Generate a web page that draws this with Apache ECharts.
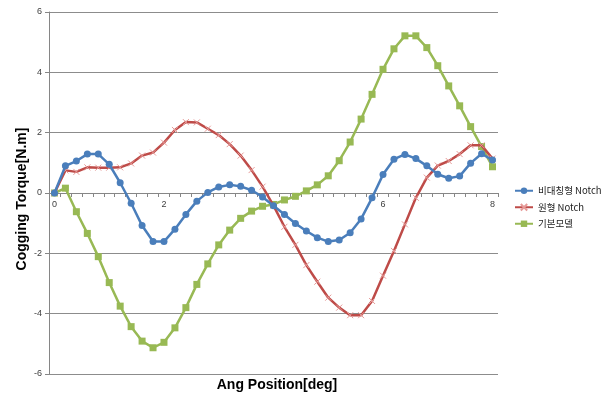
<!DOCTYPE html>
<html>
<head>
<meta charset="utf-8">
<script src="https://cdn.jsdelivr.net/npm/echarts@6/dist/echarts.min.js"></script>
<style>
  html, body { margin: 0; padding: 0; background: #fff; }
  #chart { width: 606px; height: 397px; }
</style>
</head>
<body>
<div id="chart"></div>
<script>
// Rotor angle positions, 0 to 8 deg in 0.2 deg steps
const angles = [];
for (let i = 0; i <= 40; i++) angles.push((i * 0.2).toFixed(1).replace(/\.0$/, ''));

// Cogging torque [N.m] for each rotor design
const asymNotch = [0, 0.90, 1.06, 1.29, 1.29, 0.95, 0.34, -0.34, -1.08, -1.61,
  -1.61, -1.20, -0.71, -0.27, 0.02, 0.20, 0.27, 0.22, 0.09, -0.13,
  -0.42, -0.71, -1.01, -1.26, -1.48, -1.61, -1.56, -1.32, -0.86, -0.16,
  0.61, 1.12, 1.28, 1.14, 0.90, 0.62, 0.49, 0.56, 0.99, 1.30, 1.09];
const roundNotch = [0, 0.75, 0.70, 0.85, 0.84, 0.84, 0.85, 0.98, 1.24, 1.34,
  1.67, 2.09, 2.35, 2.34, 2.13, 1.92, 1.62, 1.24, 0.76, 0.21,
  -0.42, -1.12, -1.72, -2.39, -2.94, -3.47, -3.80, -4.05, -4.05, -3.58,
  -2.74, -1.92, -1.04, -0.16, 0.51, 0.91, 1.06, 1.29, 1.58, 1.58, 1.14];
const baseModel = [0, 0.16, -0.62, -1.34, -2.11, -2.97, -3.75, -4.43, -4.91, -5.13,
  -4.95, -4.47, -3.80, -3.03, -2.35, -1.72, -1.23, -0.84, -0.60, -0.44,
  -0.38, -0.23, -0.11, 0.07, 0.27, 0.57, 1.07, 1.69, 2.45, 3.27,
  4.10, 4.78, 5.21, 5.21, 4.82, 4.22, 3.55, 2.89, 2.20, 1.54, 0.87];

const seriesNames = ['비대칭형 Notch', '원형 Notch', '기본모델'];
const yTicks = { min: -6, max: 6, interval: 2 };

const font = "'Liberation Sans', Arial, 'Noto Sans CJK KR', sans-serif";
const titleFont = "bold 14px 'Liberation Sans', Arial, sans-serif";
const gridTop = 12, gridBottom = 23, chartH = 397;
const plotH = chartH - gridTop - gridBottom;

const chart = echarts.init(document.getElementById('chart'));

chart.setOption({
  animation: false,
  backgroundColor: '#ffffff',
  grid: { left: 49, right: 108, top: gridTop, bottom: gridBottom, containLabel: false },
  xAxis: {
    type: 'category',
    data: angles,
    boundaryGap: true,
    // the category axis sits on the zero line of the torque axis
    offset: -plotH / 2,
    axisLine: { onZero: false, lineStyle: { color: '#868686', width: 1 } },
    axisTick: { show: true, interval: 0, length: 4, lineStyle: { color: '#868686' } },
    axisLabel: { interval: 9, color: '#404040', fontSize: 9, fontFamily: font, margin: 7 },
    splitLine: { show: false }
  },
  yAxis: {
    type: 'value',
    min: yTicks.min, max: yTicks.max, interval: yTicks.interval,
    axisLine: { show: true, lineStyle: { color: '#868686' } },
    axisTick: { show: true, length: 4, lineStyle: { color: '#868686' } },
    axisLabel: { color: '#404040', fontSize: 9, fontFamily: font, margin: 7 },
    splitLine: { show: true, lineStyle: { color: '#8c8c8c', width: 1 } }
  },
  legend: {
    orient: 'vertical',
    left: 509, top: 181,
    itemGap: 7,
    itemWidth: 18, itemHeight: 8,
    textStyle: { fontSize: 9.5, color: '#222', fontFamily: "'Noto Sans CJK KR', sans-serif" },
    data: seriesNames
  },
  graphic: [
    {
      type: 'text',
      x: 277, y: 378,
      style: { text: 'Ang Position[deg]', align: 'center', font: titleFont, fill: '#000' }
    },
    {
      type: 'text',
      x: 22, y: 199,
      rotation: Math.PI / 2,
      style: {
        text: 'Cogging Torque[N.m]', align: 'center', verticalAlign: 'middle',
        font: titleFont, fill: '#000'
      }
    }
  ],
  series: [
    {
      name: seriesNames[0], type: 'line', data: asymNotch,
      symbol: 'circle', symbolSize: 7,
      lineStyle: { color: '#4a7ebb', width: 2.5 },
      itemStyle: { color: '#4a7ebb' }, z: 3
    },
    {
      name: seriesNames[1], type: 'line', data: roundNotch,
      symbol: 'path://M0,0L10,10M10,0L0,10', symbolSize: 6,
      lineStyle: { color: '#be4b48', width: 2.5 },
      itemStyle: { color: 'rgba(0,0,0,0)', borderColor: '#e69a98', borderWidth: 1 }, z: 2
    },
    {
      name: seriesNames[2], type: 'line', data: baseModel,
      symbol: 'rect', symbolSize: 7,
      lineStyle: { color: '#98b954', width: 2.5 },
      itemStyle: { color: '#98b954' }, z: 1
    }
  ]
});
</script>
</body>
</html>
